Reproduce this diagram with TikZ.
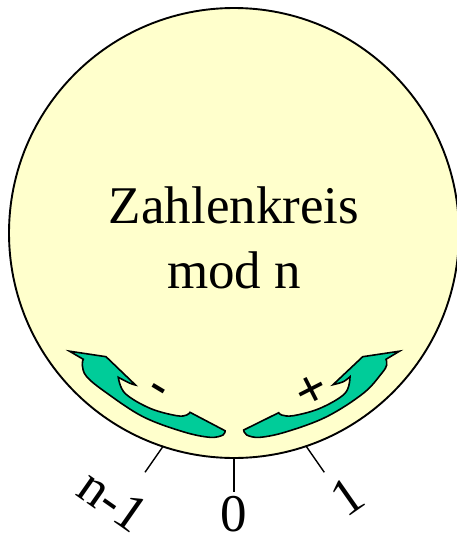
\documentclass[tikz,border=0pt]{standalone}
\usepackage{fontspec}
\setmainfont{Liberation Serif}
\tikzset{
  kreis/.style={circle,draw=black,line width=1.9pt,fill=kreisgelb,minimum size=450pt,inner sep=0pt},
  pfeil/.style={draw=black,line width=1.6pt,fill=pfeilgruen,line join=miter,miter limit=10},
  tick/.style={draw=black,line width=1.4pt},
  gross/.style={font=\fontsize{53}{60}\selectfont,inner sep=0pt,align=center},
  minuszeichen/.style={font=\fontsize{50}{50}\selectfont\bfseries,inner sep=0pt},
  pluszeichen/.style={font=\fontsize{54}{54}\selectfont\bfseries,inner sep=0pt},
}
\definecolor{kreisgelb}{HTML}{FFFFCC}
\definecolor{pfeilgruen}{HTML}{00CC99}
\begin{document}
\begin{tikzpicture}[x=1pt,y=-1pt]
\useasboundingbox (0,0) rectangle (456,533);
\node[kreis] (circ) at (234,233) {};
\node[gross] (title) at (234,238) {Zahlenkreis\\[5pt]mod n};
% left arrow
\path[pfeil] (69.5,351.2) -- (106,356.7) -- (135.5,385)
  -- plot[smooth,tension=0.6] coordinates {(135.5,385) (130,383.3) (118.3,377.3)}
  -- plot[smooth,tension=0.6] coordinates {(118.3,377.3) (125,393.3) (150,408.3) (176.7,415.7) (186.7,415) (190,412.3)}
  -- (225,430.7)
  -- plot[smooth,tension=0.6] coordinates {(225,430.7) (223,435) (210,437.3) (183,431.7) (143,416.7) (106.7,393) (86.7,376.7) (82.3,365) (83.3,359.3)}
  -- cycle;
% right arrow
\path[pfeil] (399.5,351.2) -- (362.7,356.7) -- (333,384.7)
  -- plot[smooth,tension=0.6] coordinates {(333,384.7) (343.3,381.7) (350,376.7)}
  -- plot[smooth,tension=0.6] coordinates {(350,376.7) (345,393.3) (320,408.3) (293.3,415.7) (281.7,415) (278.7,412.7)}
  -- (243.7,430)
  -- plot[smooth,tension=0.6] coordinates {(243.7,430) (246.7,435) (260,437.3) (286.7,431.7) (326.7,416.7) (363.3,393.3) (381.7,373.3) (386.7,365) (386,359.3)}
  -- cycle;
\node[minuszeichen,rotate=-31] (minus) at (156.5,392.5) {-};
\node[pluszeichen,rotate=27] (plus) at (312,392) {+};
% ticks
\coordinate (a1) at (163.3,446); \coordinate (a2) at (145,472.3);
\coordinate (b1) at (234,459.3); \coordinate (b2) at (234,491.7);
\coordinate (c1) at (306,446);   \coordinate (c2) at (324.3,472.3);
\draw[tick] (a1) -- (a2);
\draw[tick] (b1) -- (b2);
\draw[tick] (c1) -- (c2);
\node[gross,rotate=-35] (nm) at (113,500) {n-1};
\node[gross] (null) at (234,514) {0};
\node[gross,rotate=35] (eins) at (347,497) {1};
\end{tikzpicture}
\end{document}
